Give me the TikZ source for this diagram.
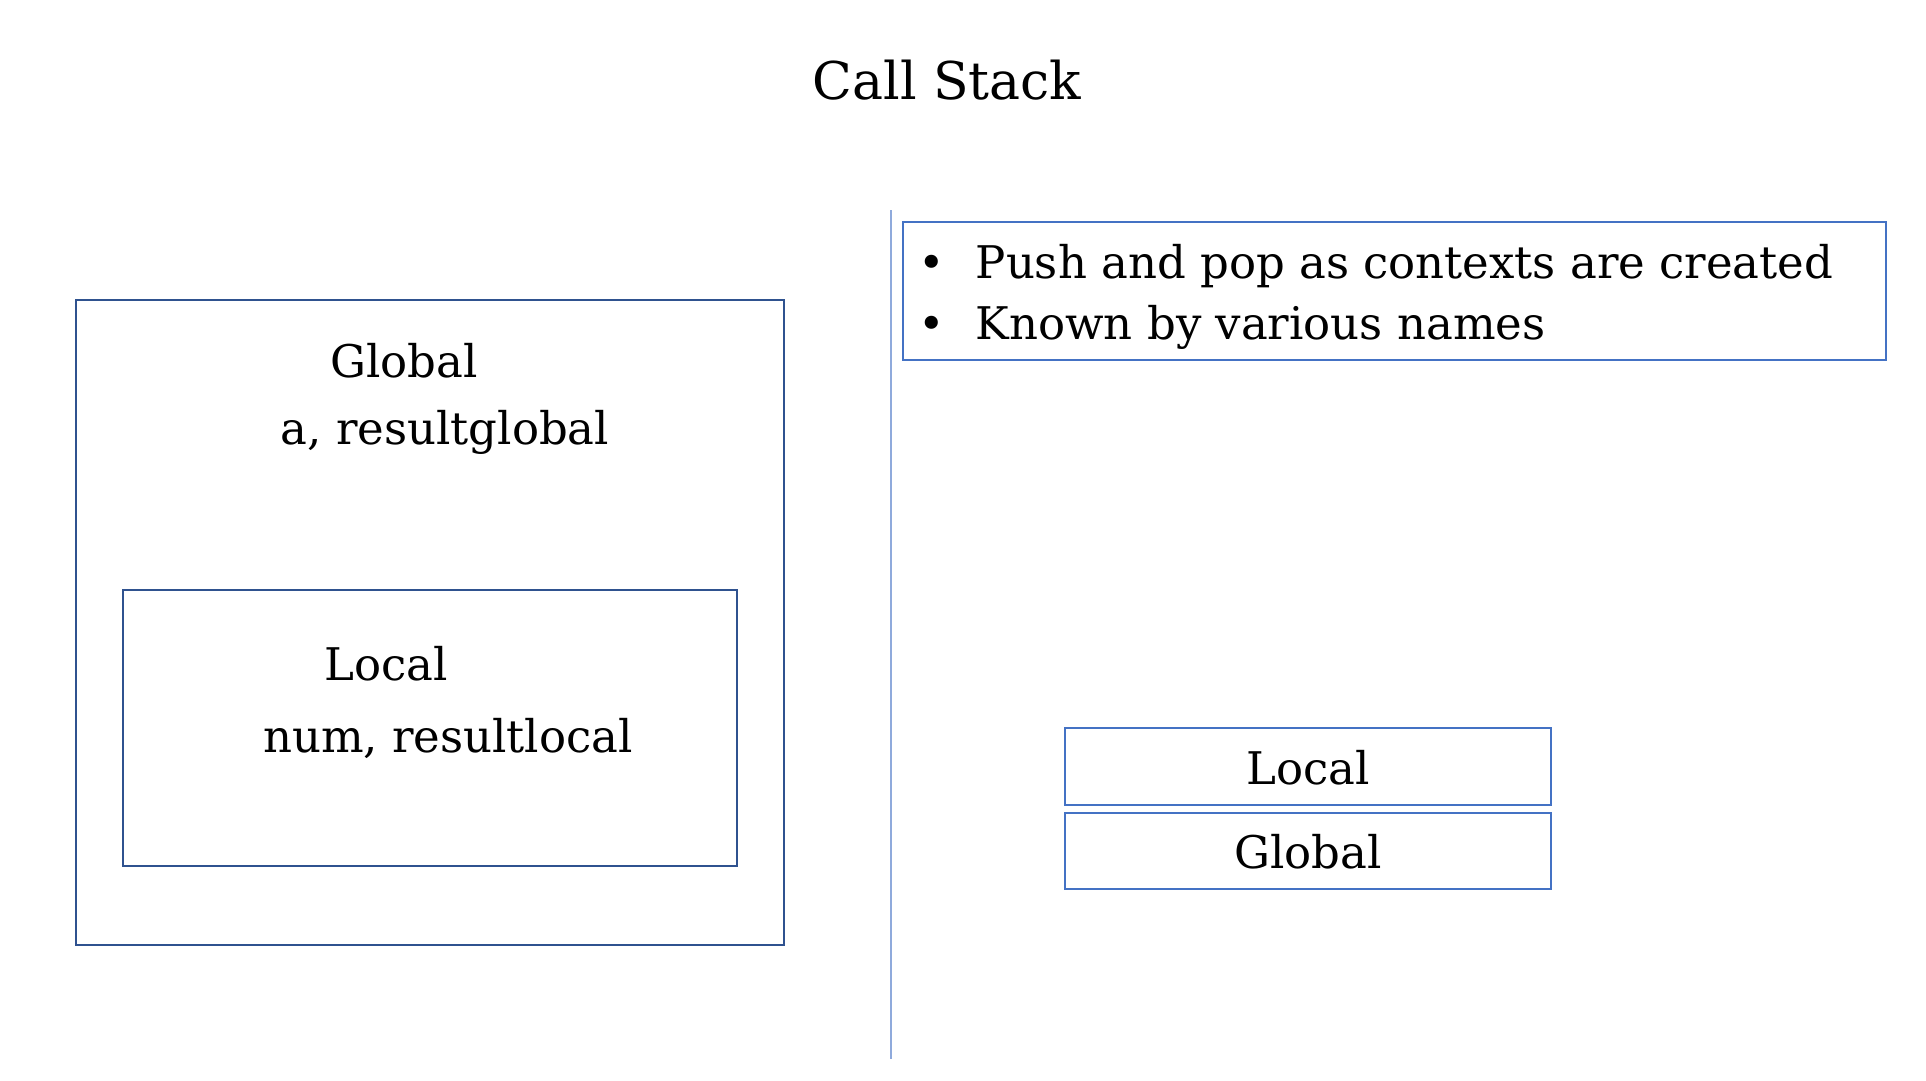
\documentclass[tikz,border=0pt]{standalone}
\usepackage{fontspec}
\setmainfont{DejaVu Serif}
\definecolor{darkblue}{HTML}{2F528F}
\definecolor{midblue}{HTML}{4472C4}
\definecolor{lineblue}{HTML}{8FAADC}
\begin{document}
\begin{tikzpicture}[x=1pt,y=-1pt,
  frame/.style={draw=darkblue,line width=2pt},
  stackbox/.style={draw=midblue,line width=1.6pt},
  txt/.style={inner sep=0pt,font=\fontsize{45}{52}\selectfont},
  title/.style={inner sep=0pt,font=\fontsize{52}{60}\selectfont}]
\useasboundingbox (0,0) rectangle (1926,1080);
\node[title] (title) at (947,80) {Call Stack};
% left nested boxes
\draw[frame] (76,300) rectangle (784,945);
\draw[frame] (123,590) rectangle (737,866);
\node[txt] (gl) at (404,361) {Global};
\node[txt] (glv) at (445,432) {a, resultglobal};
\node[txt] (lo) at (386,664) {Local};
\node[txt] (lov) at (448,738) {num, resultlocal};
% divider
\coordinate (vtop) at (891,210);
\coordinate (vbot) at (891,1059);
\draw[lineblue,line width=1.5pt] (vtop) -- (vbot);
% bullet box
\node[stackbox,minimum width=983pt,minimum height=138pt,inner sep=0pt] (bul) at (1394.5,291) {};
\node[txt,anchor=west] (b1) at (918,266) {•\hspace{31pt}Push and pop as contexts are created};
\node[txt,anchor=west] (b2) at (918,327) {•\hspace{31pt}Known by various names};
% stack
\node[stackbox,minimum width=486pt,minimum height=77pt,inner sep=0pt] (sl) at (1308,766.5) {};
\node[stackbox,minimum width=486pt,minimum height=76pt,inner sep=0pt] (sg) at (1308,851) {};
\node[txt] (slt) at (1308,768) {Local};
\node[txt] (sgt) at (1308,852) {Global};
\end{tikzpicture}
\end{document}
